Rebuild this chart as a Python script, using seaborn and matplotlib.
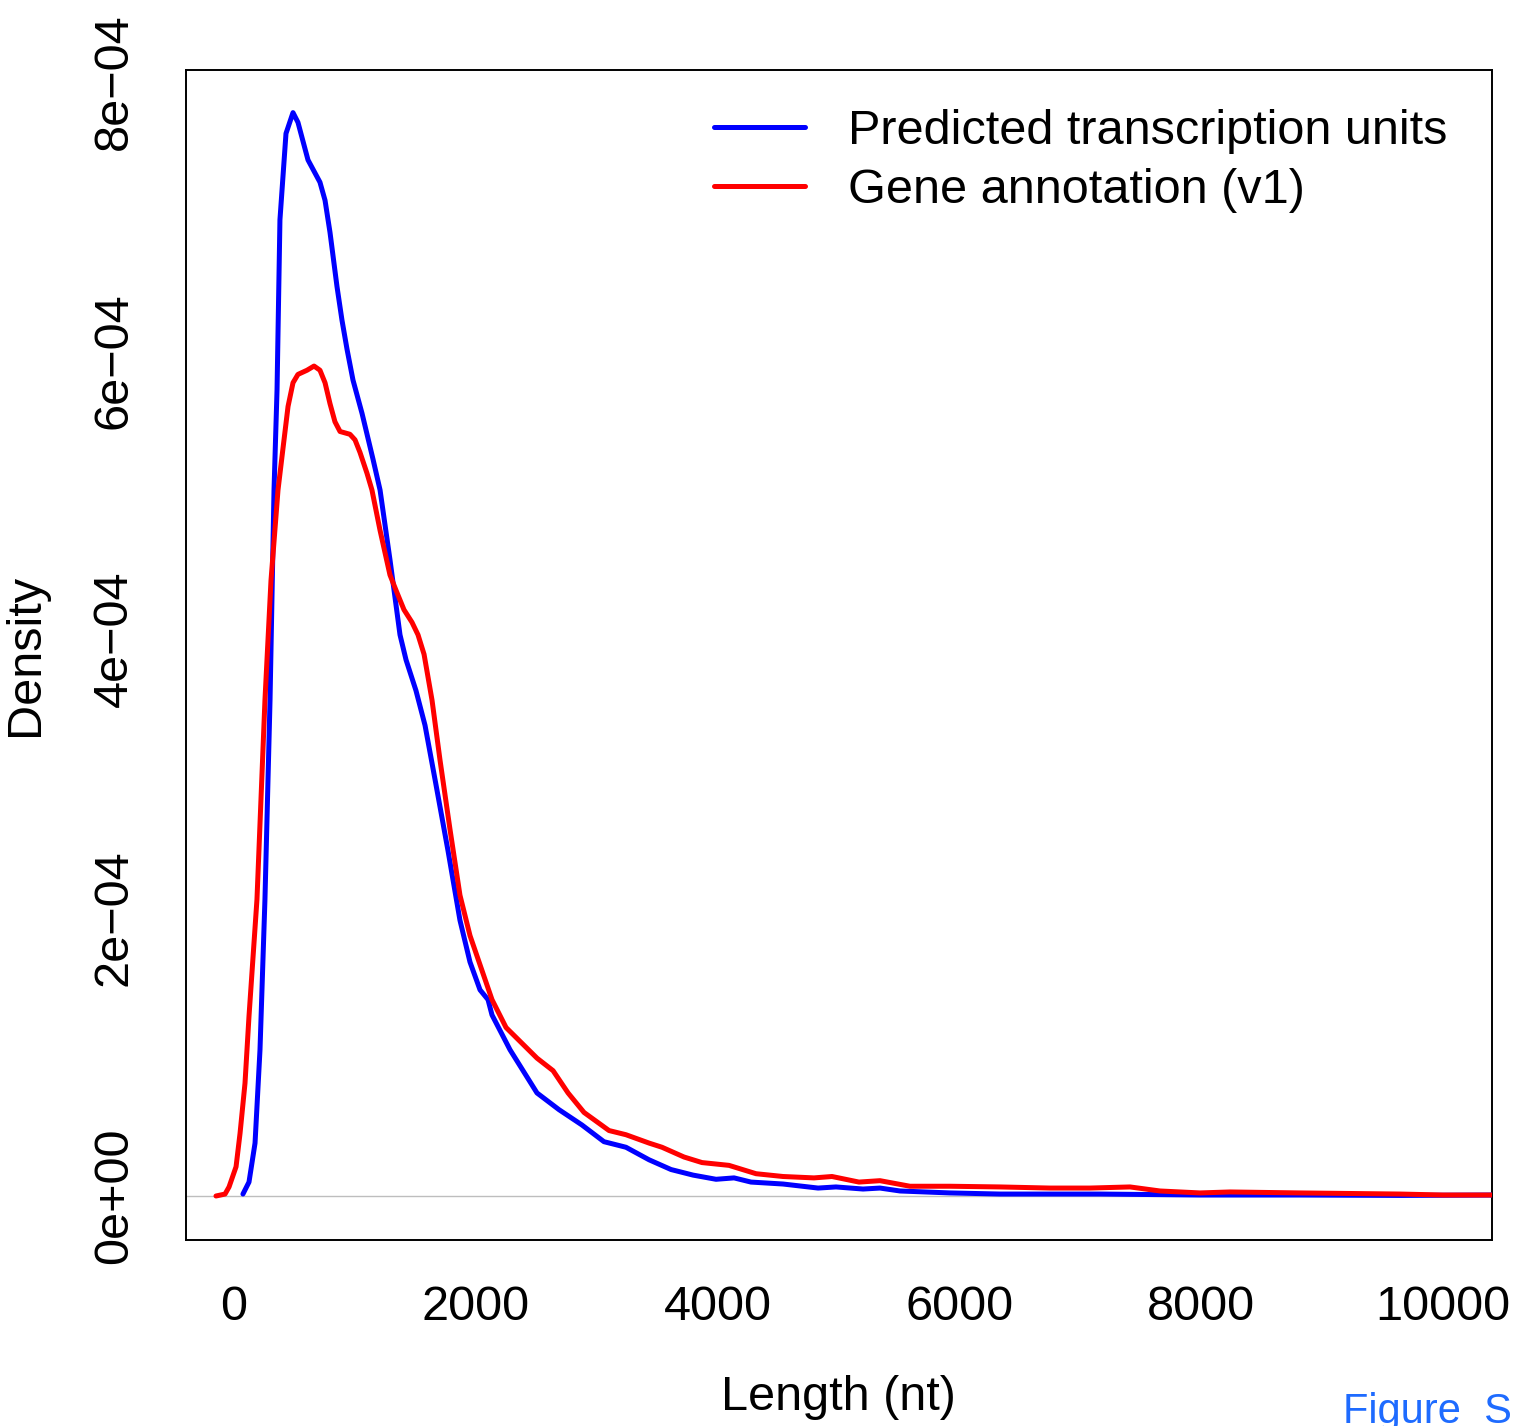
import matplotlib
matplotlib.use("Agg")
import matplotlib.pyplot as plt
import seaborn as sns
import pandas as pd

# ---- data (density in units of 1e-4) ----
pred_x = [74, 124, 174, 215, 256, 298, 331, 356, 380, 430, 488, 529, 612, 711, 753, 794,
          852, 893, 935, 984, 1059, 1150, 1208, 1290, 1373, 1423, 1505, 1580, 1663, 1770,
          1869, 1952, 2035, 2101, 2134, 2283, 2506, 2688, 2878, 3060, 3242, 3433, 3615,
          3797, 3987, 4136, 4276, 4541, 4831, 4979, 5203, 5343, 5509, 5922, 6336, 7163,
          7990, 8817, 9644, 10405]
pred_y = [0.014, 0.10, 0.38, 1.05, 2.13, 3.56, 5.07, 5.79, 7.01, 7.63, 7.78, 7.71, 7.44,
          7.28, 7.15, 6.92, 6.53, 6.29, 6.08, 5.86, 5.62, 5.29, 5.07, 4.57, 4.03, 3.85,
          3.63, 3.38, 2.99, 2.48, 1.98, 1.68, 1.48, 1.41, 1.30, 1.05, 0.74, 0.62, 0.51,
          0.39, 0.35, 0.26, 0.19, 0.15, 0.12, 0.13, 0.10, 0.086, 0.057, 0.065, 0.050,
          0.057, 0.036, 0.022, 0.014, 0.014, 0.007, 0.007, 0.004, 0.007]

gene_x = [-149, -74, -41, 17, 50, 91, 124, 190, 256, 306, 364, 397, 447, 488, 529, 604,
          662, 711, 753, 794, 835, 877, 959, 1001, 1042, 1100, 1141, 1208, 1290, 1340,
          1406, 1472, 1522, 1572, 1638, 1704, 1787, 1869, 1952, 2035, 2134, 2250, 2506,
          2639, 2763, 2895, 3102, 3242, 3433, 3540, 3722, 3871, 4094, 4318, 4541, 4797,
          4946, 5169, 5343, 5591, 5922, 6336, 6749, 7080, 7411, 7659, 7990, 8238, 8817,
          9644, 10000, 10405]
gene_y = [0.0, 0.014, 0.065, 0.21, 0.45, 0.81, 1.29, 2.13, 3.56, 4.42, 5.07, 5.31, 5.67,
          5.84, 5.90, 5.93, 5.96, 5.93, 5.84, 5.69, 5.56, 5.49, 5.47, 5.43, 5.34, 5.19,
          5.07, 4.78, 4.46, 4.35, 4.21, 4.12, 4.03, 3.89, 3.56, 3.13, 2.63, 2.16, 1.87,
          1.66, 1.41, 1.21, 0.99, 0.90, 0.74, 0.60, 0.47, 0.44, 0.38, 0.35, 0.28, 0.24,
          0.22, 0.16, 0.14, 0.13, 0.14, 0.10, 0.11, 0.07, 0.07, 0.065, 0.057, 0.057,
          0.065, 0.036, 0.022, 0.029, 0.022, 0.014, 0.007, 0.007]

series_names = ["Predicted transcription units", "Gene annotation (v1)"]
series_colors = ["#0000FF", "#FF0000"]
x_ticks = [0, 2000, 4000, 6000, 8000, 10000]
y_ticks = [0, 2e-4, 4e-4, 6e-4, 8e-4]
y_tick_labels = ["0e+00", "2e\u221204", "4e\u221204", "6e\u221204", "8e\u221204"]

df = pd.concat([
    pd.DataFrame({"Length": pred_x, "Density": [v * 1e-4 for v in pred_y], "series": series_names[0]}),
    pd.DataFrame({"Length": gene_x, "Density": [v * 1e-4 for v in gene_y], "series": series_names[1]}),
], ignore_index=True)

sns.set_style("white")
plt.rcParams["font.family"] = ["Liberation Sans", "DejaVu Sans"]
plt.rcParams["text.color"] = "black"
plt.rcParams["xtick.color"] = "black"
plt.rcParams["ytick.color"] = "black"
plt.rcParams["axes.labelcolor"] = "black"

W, H = 1516, 1426
fig = plt.figure(figsize=(W / 100, H / 100), dpi=100)
ax = fig.add_axes([186 / W, 1 - 1240 / H, (1492 - 186) / W, (1240 - 70) / H])

ax.axhline(0, color="#bebebe", lw=1.0, zorder=1)
sns.lineplot(data=df, x="Length", y="Density", hue="series", hue_order=series_names,
             palette=series_colors, estimator=None, sort=True, lw=3.6, ax=ax, zorder=3)

ax.set_xlim(-397, 10405)
ax.set_ylim(-0.316e-4, 8.086e-4)

ax.set_xticks(x_ticks)
ax.set_xticklabels([str(t) for t in x_ticks], fontsize=35, color="black")
ax.set_yticks(y_ticks)
ax.set_yticklabels(y_tick_labels, fontsize=35, rotation=90, va="center", ha="right",
                   color="black")
ax.tick_params(axis="both", direction="out", length=11.5, width=1.4, color="black")
ax.tick_params(axis="x", pad=21)
ax.tick_params(axis="y", pad=24)
for sp in ax.spines.values():
    sp.set_visible(True)
    sp.set_color("black")
    sp.set_linewidth(1.4)

ax.set_xlabel("")
ax.set_ylabel("")
fig.text(838 / W, 1 - 1397 / H, "Length (nt)", fontsize=35, ha="center", va="center",
         color="black")
fig.text(25 / W, 1 - 655 / H, "Density", fontsize=35, ha="center", va="center",
         rotation=90, color="black")

handles, labels = ax.get_legend_handles_labels()
leg = ax.legend(handles, labels, loc="upper left", bbox_to_anchor=(714 / W, 1 - 109 / H),
                bbox_transform=fig.transFigure, frameon=False, fontsize=35,
                handlelength=1.87, handletextpad=0.88, borderpad=0, borderaxespad=0,
                labelspacing=0.28)
for t in leg.get_texts():
    t.set_color("black")

fig.text(1343 / W, 1 - 1392 / H, "Figure  S", fontsize=30, color="#1E6BFF",
         ha="left", va="top")

fig.savefig("out.png", dpi=100)
